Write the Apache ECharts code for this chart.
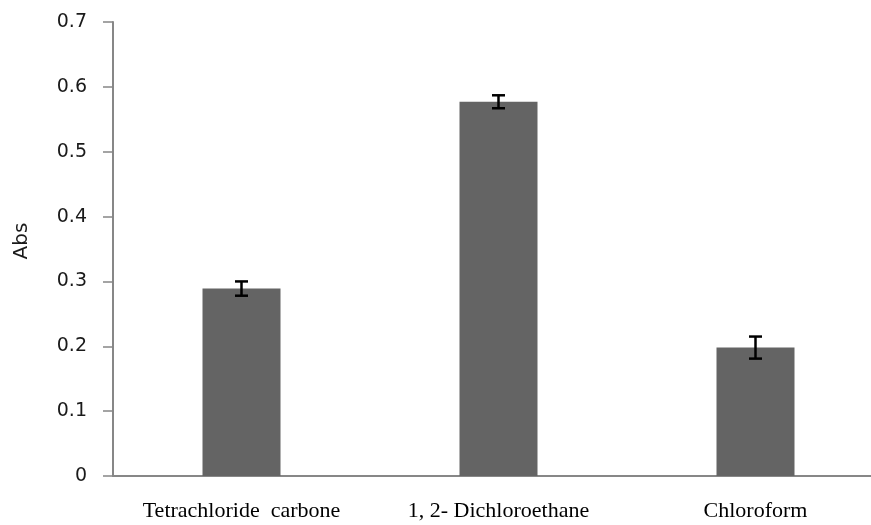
<!DOCTYPE html>
<html>
<head>
<meta charset="utf-8">
<script src="https://cdn.jsdelivr.net/npm/echarts@6/dist/echarts.min.js"></script>
<style>
  html, body { margin: 0; padding: 0; background: #ffffff; }
  #chart { width: 871px; height: 525px; }
</style>
</head>
<body>
<div id="chart"></div>
<script>
// Absorbance per solvent, with standard deviation
const solvents = ['Tetrachloride  carbone', '1, 2- Dichloroethane', 'Chloroform'];
const absValues = [0.289, 0.577, 0.198];
const absErrors = [0.011, 0.010, 0.017];
const yTicks = { min: 0, max: 0.7, interval: 0.1 };

const errorData = solvents.map((_, i) => [i, absValues[i] - absErrors[i], absValues[i] + absErrors[i]]);

const chart = echarts.init(document.getElementById('chart'), null, { renderer: 'canvas' });

chart.setOption({
  animation: false,
  backgroundColor: '#ffffff',
  // the plot area runs on past the right edge of the canvas
  grid: { left: 113, right: -13, top: 22, bottom: 49, containLabel: false, outerBoundsMode: 'none' },
  xAxis: {
    type: 'category',
    data: solvents,
    axisLine: { lineStyle: { color: '#878787', width: 2 } },
    axisTick: { show: false },
    axisLabel: {
      interval: 0,
      hideOverlap: false,
      margin: 24,
      color: '#000000',
      fontFamily: 'Liberation Serif',
      fontSize: 22
    }
  },
  yAxis: {
    type: 'value',
    min: yTicks.min,
    max: yTicks.max,
    interval: yTicks.interval,
    splitLine: { show: false },
    axisLine: { show: true, lineStyle: { color: '#878787', width: 2 } },
    axisTick: { show: true, length: 10, lineStyle: { color: '#878787', width: 1.5 } },
    axisLabel: {
      margin: 26,
      color: '#1a1a1a',
      fontFamily: 'DejaVu Sans',
      fontSize: 19,
      formatter: v => (v === 0 ? '0' : v.toFixed(1))
    }
  },
  graphic: [{
    type: 'text',
    x: 22,
    y: 241,
    rotation: Math.PI / 2,
    style: {
      text: 'Abs',
      fill: '#1a1a1a',
      font: '20px "DejaVu Sans"',
      textAlign: 'center',
      textVerticalAlign: 'middle'
    }
  }],
  series: [
    {
      type: 'bar',
      data: absValues,
      barWidth: 78,
      itemStyle: { color: '#646464' }
    },
    {
      type: 'custom',
      data: errorData,
      z: 10,
      renderItem: (params, api) => {
        const x = api.value(0);
        const lo = api.coord([x, api.value(1)]);
        const hi = api.coord([x, api.value(2)]);
        const half = 6.5;
        const style = { stroke: '#000000', lineWidth: 2.5 };
        return {
          type: 'group',
          children: [
            { type: 'line', shape: { x1: lo[0], y1: lo[1], x2: hi[0], y2: hi[1] }, style },
            { type: 'line', shape: { x1: hi[0] - half, y1: hi[1], x2: hi[0] + half, y2: hi[1] }, style },
            { type: 'line', shape: { x1: lo[0] - half, y1: lo[1], x2: lo[0] + half, y2: lo[1] }, style }
          ]
        };
      }
    }
  ]
});
</script>
</body>
</html>
